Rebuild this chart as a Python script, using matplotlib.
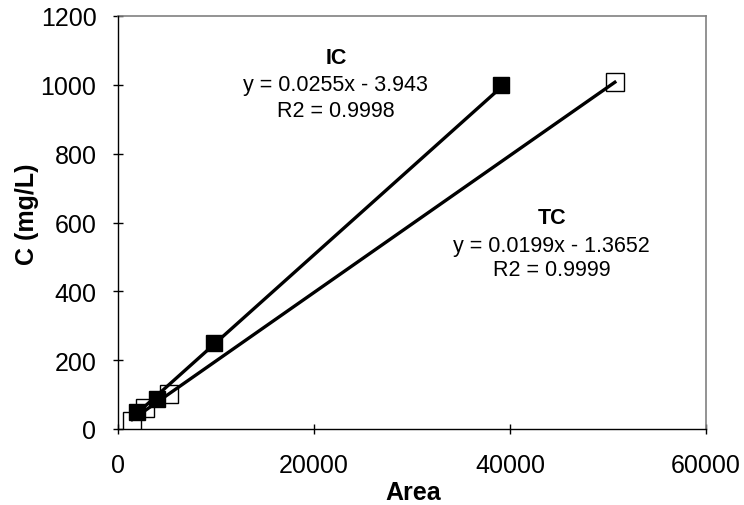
import matplotlib
matplotlib.use("Agg")
import matplotlib.pyplot as plt
import numpy as np

plt.rcParams['font.family'] = ['Liberation Sans', 'DejaVu Sans']

# Data
ic_area = [1960, 3930, 9750, 39100]
ic_conc = [50, 88, 250, 1000]
tc_area = [1450, 2750, 5200, 50700]
tc_conc = [24, 60, 102, 1008]

ic_slope, ic_intercept = 0.0255, -3.943
tc_slope, tc_intercept = 0.0199, -1.3652

x_ticks = [0, 20000, 40000, 60000]
y_ticks = [0, 200, 400, 600, 800, 1000, 1200]

W, H = 744, 506
fig = plt.figure(figsize=(W / 100, H / 100), dpi=100)
ax = fig.add_axes([118 / W, 1 - 430 / H, (706 - 118) / W, (430 - 17) / H])

# trendlines
xs = np.array([min(ic_area), max(ic_area)])
ax.plot(xs, ic_slope * xs + ic_intercept, color='black', lw=2.4, zorder=2)
xs = np.array([min(tc_area), max(tc_area)])
ax.plot(xs, tc_slope * xs + tc_intercept, color='black', lw=2.4, zorder=2)

# markers
ax.plot(tc_area, tc_conc, linestyle='none', marker='s', markersize=12.5,
        markerfacecolor='none', markeredgecolor='black', markeredgewidth=1.0, zorder=3)
ax.plot(ic_area, ic_conc, linestyle='none', marker='s', markersize=12,
        markerfacecolor='black', markeredgecolor='black', zorder=4)

ax.set_xlim(0, 60000)
ax.set_ylim(0, 1200)
ax.set_xticks(x_ticks)
ax.set_yticks(y_ticks)
ax.set_xticklabels([str(v) for v in x_ticks])
ax.set_yticklabels([str(v) for v in y_ticks])

for s in ['top', 'right']:
    ax.spines[s].set_color('#808080')
    ax.spines[s].set_linewidth(1.2)
for s in ['left', 'bottom']:
    ax.spines[s].set_color('black')
    ax.spines[s].set_linewidth(1.0)
ax.spines['left'].set_zorder(5)
ax.spines['bottom'].set_zorder(5)

ax.tick_params(axis='x', direction='inout', length=7, width=1, labelsize=18, pad=14)
ax.tick_params(axis='y', direction='inout', length=7, width=1, labelsize=18, pad=12)
for lab in ax.get_xticklabels() + ax.get_yticklabels():
    lab.set_clip_on(False)

# annotations
ax.text(22230, 1078, 'IC', ha='center', va='center', fontsize=15.5, fontweight='bold')
ax.text(22230, 1000, 'y = 0.0255x - 3.943', ha='center', va='center', fontsize=15.5)
ax.text(22230, 924, 'R2 = 0.9998', ha='center', va='center', fontsize=15.5)
ax.text(44250, 614, 'TC', ha='center', va='center', fontsize=15.5, fontweight='bold')
ax.text(44250, 532, 'y = 0.0199x - 1.3652', ha='center', va='center', fontsize=15.5)
ax.text(44250, 463, 'R2 = 0.9999', ha='center', va='center', fontsize=15.5)

fig.text(413 / W, 1 - 493 / H, 'Area', ha='center', va='center', fontsize=18, fontweight='bold')
fig.text(27 / W, 1 - 214 / H, 'C (mg/L)', ha='center', va='center', rotation=90,
         fontsize=18, fontweight='bold')

fig.savefig('out.png', dpi=100)
